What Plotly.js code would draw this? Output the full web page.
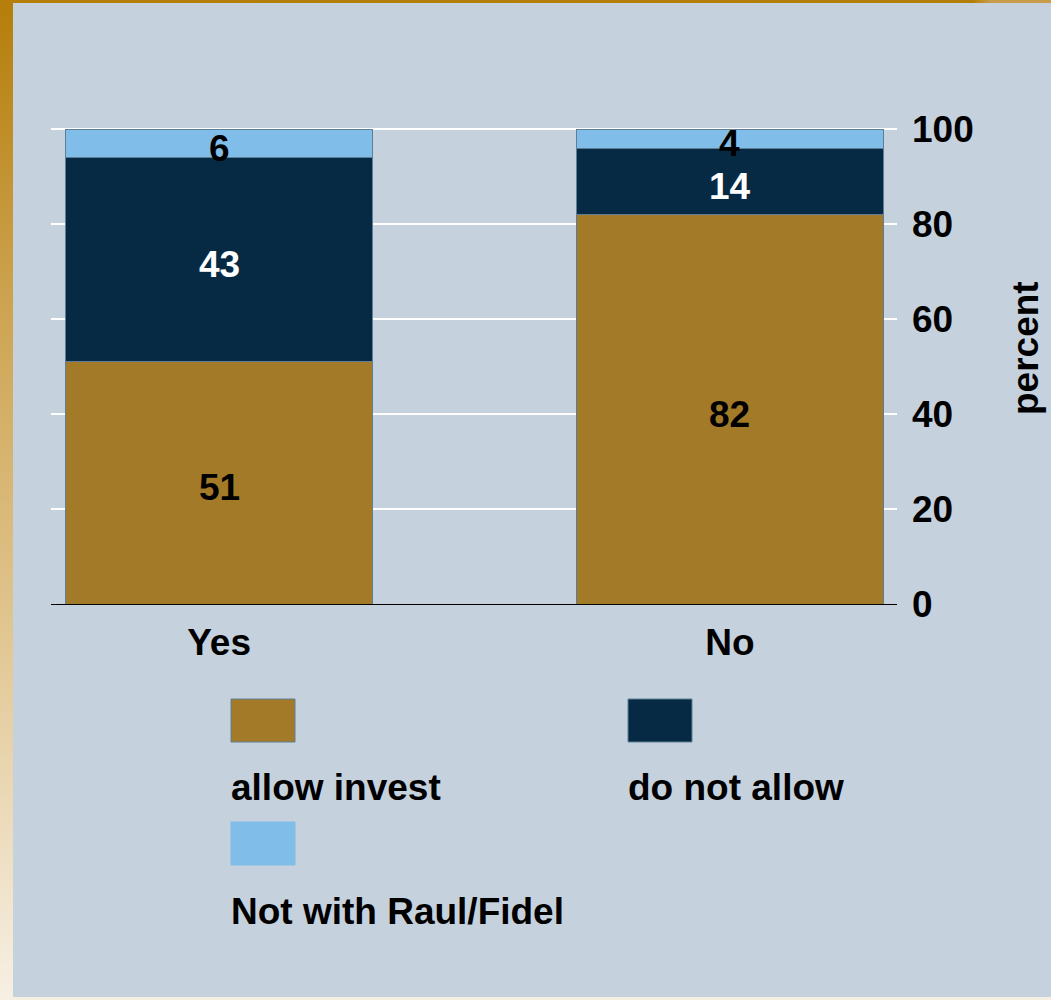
<!DOCTYPE html>
<html>
<head>
<meta charset="utf-8">
<script src="https://cdn.plot.ly/plotly-3.0.1.min.js"></script>
<style>
  html, body { margin: 0; padding: 0; width: 1051px; height: 1000px; overflow: hidden; }
  body { background: linear-gradient(to bottom, #B57E0A 0%, #CDA350 30%, #E2C895 65%, #F6F0E4 100%); position: relative; }
  #topright { position: absolute; left: 975px; top: 0; width: 76px; height: 3px; background: linear-gradient(to right, #B8830F, #C89C48 20%, #C89C48); }
  #chart { position: absolute; left: 13px; top: 3px; width: 1038px; height: 994px; }
</style>
</head>
<body>
<div id="topright"></div>
<div id="chart"></div>
<script>
// ---- data ----
const categories = ['Yes', 'No'];
const allowInvest = [51, 82];
const doNotAllow = [43, 14];
const notWithRaulFidel = [6, 4];
const seriesNames = ['allow invest', 'do not allow', 'Not with Raul/Fidel'];
const yTickVals = [0, 20, 40, 60, 80, 100];
const yTitle = 'percent';

// ---- styles ----
const colors = ['#A37A27', '#062A43', '#80BDE8'];
const labelColors = ['#000000', '#FFFFFF', '#000000'];
const FONT = 'Liberation Sans, Arial, sans-serif';
const FS = 37;
const boldFont = (c) => ({ family: FONT, size: FS, color: c || '#000', weight: 'bold' });

const seriesValues = [allowInvest, doNotAllow, notWithRaulFidel];

const traces = seriesValues.map((vals, i) => ({
  type: 'bar', x: categories, y: vals, name: seriesNames[i],
  marker: { color: colors[i], line: { color: '#5E7E98', width: 1 } },
  showlegend: false, hoverinfo: 'x+y+name'
}));

// value labels centred in each segment (computed from the data)
const annotations = [];
seriesValues.forEach((vals, i) => {
  vals.forEach((v, k) => {
    let base = 0;
    for (let j = 0; j < i; j++) base += seriesValues[j][k];
    annotations.push({
      x: categories[k], y: base + v / 2, xref: 'x', yref: 'y',
      text: String(v), showarrow: false, yshift: -5,
      font: boldFont(labelColors[i])
    });
  });
});

// plot-area pixel geometry (page coords) for the custom legend
const PL = 51, PR = 897, PT = 128, PB = 604;
const px = x => (x - PL) / (PR - PL);
const py = y => (PB - y) / (PB - PT);

const legendItems = [
  { sx: 231, sy: 699, tx: 231, ty: 787 },
  { sx: 628, sy: 699, tx: 628, ty: 787 },
  { sx: 231, sy: 822, tx: 231, ty: 911 }
];
const shapes = legendItems.map((it, i) => ({
  type: 'rect', xref: 'paper', yref: 'paper',
  x0: px(it.sx), x1: px(it.sx + 64), y0: py(it.sy + 43), y1: py(it.sy),
  fillcolor: colors[i], line: { color: i === 2 ? colors[2] : '#5E7E98', width: 1 }
}));
legendItems.forEach((it, i) => {
  annotations.push({
    xref: 'paper', yref: 'paper', x: px(it.tx - 2), y: py(it.ty),
    xanchor: 'left', yanchor: 'middle', showarrow: false, text: seriesNames[i],
    font: boldFont('#000')
  });
});
// axis title
annotations.push({
  xref: 'paper', yref: 'paper', x: px(1025), y: py(348),
  xanchor: 'center', yanchor: 'middle', showarrow: false, textangle: -90,
  text: yTitle, font: boldFont('#000')
});

const layout = {
  width: 1038, height: 994,
  paper_bgcolor: '#C5D1DD', plot_bgcolor: '#C5D1DD',
  margin: { l: 38, r: 154, t: 125, b: 393 },
  barmode: 'stack', bargap: 0.4,
  font: boldFont('#000'),
  xaxis: {
    type: 'category', range: [-0.329, 1.327], showgrid: false, zeroline: false,
    showline: true, linecolor: '#000', linewidth: 1, ticks: '', fixedrange: true,
    ticklabelstandoff: 6, tickfont: boldFont('#000')
  },
  yaxis: {
    side: 'right', range: [0, 100.3], tickvals: yTickVals, showgrid: true,
    gridcolor: '#FFFFFF', gridwidth: 2, zeroline: false, showline: false,
    ticks: '', ticklabelstandoff: 14, fixedrange: true,
    tickfont: boldFont('#000')
  },
  shapes: shapes,
  annotations: annotations,
  showlegend: false
};

Plotly.newPlot('chart', traces, layout, { displayModeBar: false, staticPlot: true });
</script>
</body>
</html>
